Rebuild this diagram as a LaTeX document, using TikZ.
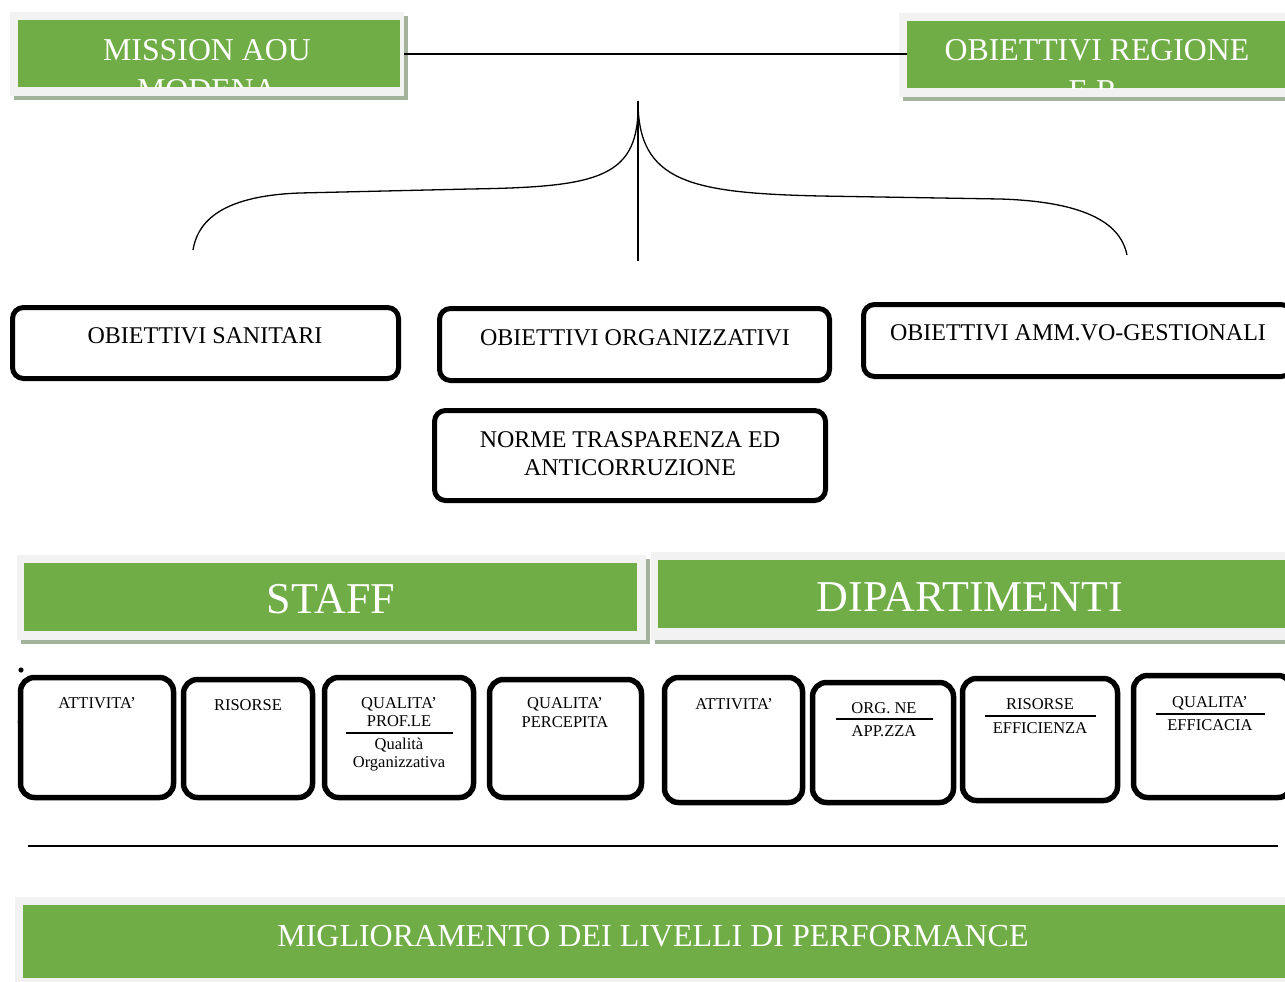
\documentclass[tikz,border=0pt]{standalone}
\usepackage{fontspec}
\setmainfont{Liberation Serif}
\usetikzlibrary{fit}
\definecolor{grn}{HTML}{70AD47}
\definecolor{frm}{HTML}{F2F2F2}
\definecolor{shd}{HTML}{A3B29A}
\tikzset{
  greenbox/.style={fill=grn, inner sep=0pt, draw=none},
  framebox/.style={fill=frm},
  shadowbox/.style={fill=shd},
  rbox/.style={draw=black, line width=5pt, rounded corners=11pt, inner sep=0pt, fill=white},
  sbox/.style={draw=black, line width=5.5pt, rounded corners=14pt, inner sep=0pt, fill=white},
  txt/.style={anchor=base, inner sep=0pt, text=black},
  wtxt/.style={anchor=base, inner sep=0pt, text=white},
  big/.style={font=\fontsize{31.8}{36}\selectfont},
  bottomf/.style={font=\fontsize{32}{36}\selectfont},
  huge/.style={font=\fontsize{44}{50}\selectfont},
  mid/.style={font=\fontsize{24}{28}\selectfont},
  small/.style={font=\fontsize{16.5}{19}\selectfont},
  sep/.style={line width=2pt},
  conn/.style={line width=1.3pt}
}
\begin{document}
\begin{tikzpicture}[x=1pt,y=-1pt]
\clip (0,0) rectangle (1285,982);
\fill[white] (0,0) rectangle (1285,982);

% ---------- top banners ----------
\fill[shadowbox] (14,16) rectangle (408,100);
\fill[framebox] (10,12) rectangle (404,96);
\node[greenbox, fit={(18,20) (400,87)}] (mission) {};
\node[wtxt, big] (missiont) at (207,60) {MISSION AOU};
\begin{scope}
  \clip (18,20) rectangle (400,87);
  \node[wtxt, big] (missiont2) at (207,100) {MODENA};
\end{scope}

\fill[shadowbox] (903,17) rectangle (1290,101);
\fill[framebox] (899,13) rectangle (1290,97);
\node[greenbox, fit={(907,21) (1290,88)}] (region) {};
\node[wtxt, big] (regiont) at (1097,61) {OBIETTIVI REGIONE};
\begin{scope}
  \clip (907,21) rectangle (1290,88);
  \node[wtxt, big] (regiont2) at (1097,101) {E.R.};
\end{scope}

\draw[conn] (404,54) coordinate (mr) -- (907,54) coordinate (rl);

% ---------- brace ----------
\coordinate (top) at (638,101);
\coordinate (vb) at (638,261);
\coordinate (lb) at (193,250);
\coordinate (rb) at (1127,255);
\draw[conn] (top) -- (vb);
\draw[conn] (top) .. controls (640,178) and (600,187) .. (470,189)
  -- (300,193) .. controls (215,196) and (197,226) .. (lb);
\draw[conn] (top) .. controls (638,182) and (690,193) .. (820,196)
  -- (1000,199) .. controls (1098,202) and (1122,230) .. (rb);

% ---------- objective boxes ----------
\node[rbox, fit={(12.5,307.5) (398.5,378.5)}] (san) {};
\node[txt, mid] at (205,343) {OBIETTIVI SANITARI};
\node[rbox, fit={(439.5,308.5) (829.5,380.5)}] (org) {};
\node[txt, mid] at (635,345) {OBIETTIVI ORGANIZZATIVI};
\node[rbox, fit={(863.5,304.5) (1292,376.5)}] (amm) {};
\node[txt, mid] at (1078,340) {OBIETTIVI AMM.VO-GESTIONALI};
\node[rbox, fit={(434.5,410.5) (825.5,500.5)}] (norme) {};
\node[txt, mid] at (630,447) {NORME TRASPARENZA ED};
\node[txt, mid] at (630,475) {ANTICORRUZIONE};

% ---------- STAFF / DIPARTIMENTI ----------
\fill[shadowbox] (21,559) rectangle (650,644);
\fill[framebox] (17,555) rectangle (646,640);
\node[greenbox, fit={(24,563) (637,631)}] (staff) {};
\node[wtxt, huge] at (331,613) {STAFF};

\fill[shadowbox] (655,556) rectangle (1290,644);
\fill[framebox] (651,552) rectangle (1290,640);
\node[greenbox, fit={(658,560) (1290,628)}] (dip) {};
\node[wtxt, huge] at (970,611) {DIPARTIMENTI};

\fill (21,670) circle (2.6);
\fill (19,722) circle (1.6);

% ---------- small boxes ----------
\node[sbox, fit={(20.5,677.5) (173.5,797.5)}] (s1) {};
\node[txt, small] at (97,708) {ATTIVITA’};
\node[sbox, fit={(183.5,679.5) (312.5,797.5)}] (s2) {};
\node[txt, small] at (248,710) {RISORSE};
\node[sbox, fit={(324.5,677.5) (473.5,797.5)}] (s3) {};
\node[txt, small] at (399,708) {QUALITA’};
\node[txt, small] at (399,726) {PROF.LE};
\draw[sep] (346,733) -- (453,733);
\node[txt, small] at (399,749) {Qualità};
\node[txt, small] at (399,767) {Organizzativa};
\node[sbox, fit={(489.5,679.5) (641.5,797.5)}] (s4) {};
\node[txt, small] at (565,708) {QUALITA’};
\node[txt, small] at (565,727) {PERCEPITA};

\node[sbox, fit={(664.5,677.5) (802.5,802.5)}] (d1) {};
\node[txt, small] at (734,709) {ATTIVITA’};
\node[sbox, fit={(812.5,682.5) (953.5,802.5)}] (d2) {};
\node[txt, small] at (884,713) {ORG. NE};
\draw[sep] (836,719) -- (933,719);
\node[txt, small] at (884,736) {APP.ZZA};
\node[sbox, fit={(962.5,678.5) (1117.5,800.5)}] (d3) {};
\node[txt, small] at (1040,709) {RISORSE};
\draw[sep] (985,716) -- (1096,716);
\node[txt, small] at (1040,733) {EFFICIENZA};
\node[sbox, fit={(1133.5,675.5) (1292,797.5)}] (d4) {};
\node[txt, small] at (1210,707) {QUALITA’};
\draw[sep] (1156,714) -- (1265,714);
\node[txt, small] at (1210,730) {EFFICACIA};

% ---------- separator ----------
\coordinate (la) at (28,846);
\coordinate (lz) at (1278,846);
\draw[conn] (la) -- (lz);

% ---------- bottom banner ----------
\fill[framebox] (15,897) rectangle (1290,990);
\node[greenbox, fit={(23,905) (1290,978)}] (perf) {};
\node[wtxt, bottomf] at (653,946) {MIGLIORAMENTO DEI LIVELLI DI PERFORMANCE};
\end{tikzpicture}
\end{document}
